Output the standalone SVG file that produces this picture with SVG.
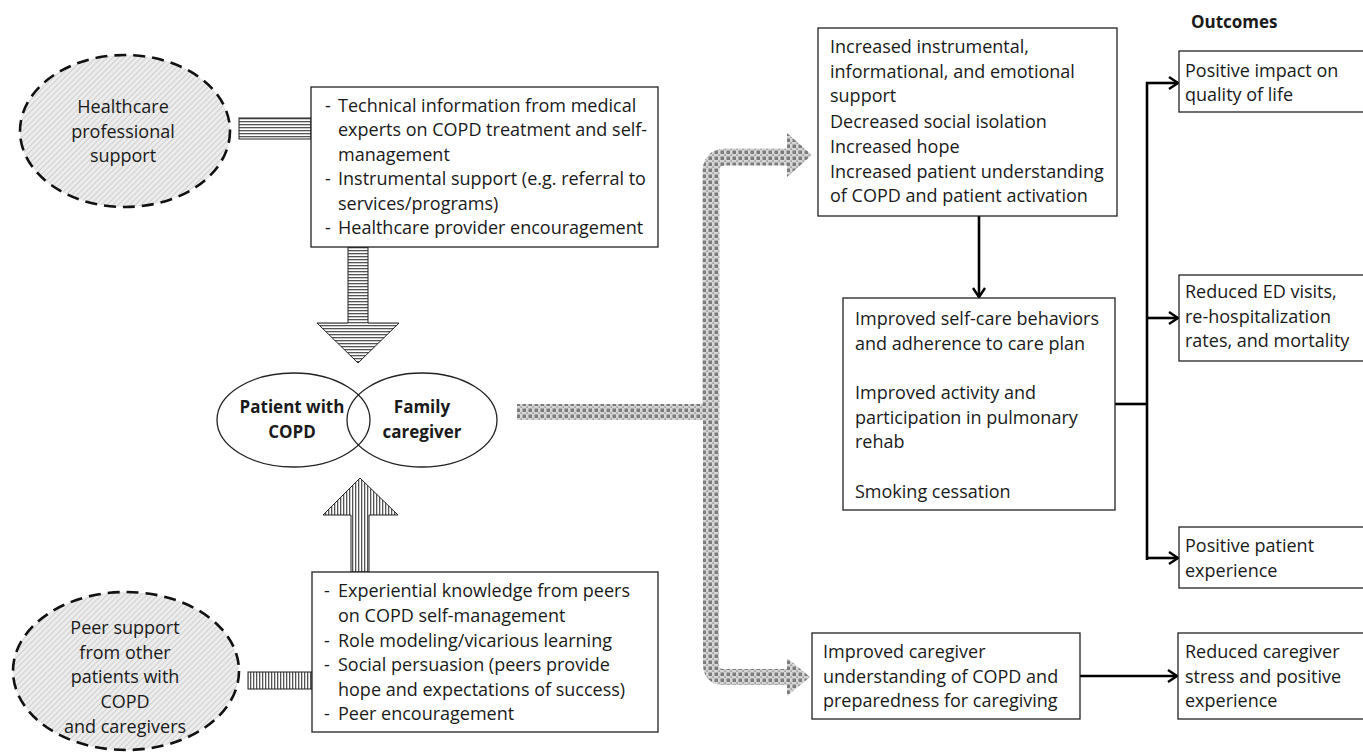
<svg xmlns="http://www.w3.org/2000/svg" width="1363" height="755" viewBox="0 0 1363 755">
<defs>
<style>
text{font-family:"Open Sans",Lato,"Liberation Sans",sans-serif;font-size:18px;fill:#1a1a1a}
.b{font-weight:bold;font-size:17px}
.c{text-anchor:middle}
.box{fill:#fff;stroke:#222;stroke-width:1.3}
.ell{fill:none;stroke:#222;stroke-width:1.3}
.dash{fill:url(#hatch);stroke:#111;stroke-width:2.6;stroke-dasharray:12 7}
.ln{fill:none;stroke:#000;stroke-width:2.6}
.str{stroke:#222;stroke-width:1}
</style>
<pattern id="hatch" patternUnits="userSpaceOnUse" width="4" height="4" patternTransform="rotate(45)">
<rect width="4" height="4" fill="#ececec"/>
<line x1="0" y1="0" x2="0" y2="4" stroke="#bdbdbd" stroke-width="1.2"/>
</pattern>
<pattern id="hs" patternUnits="userSpaceOnUse" width="4" height="3">
<rect width="4" height="3" fill="#fff"/>
<rect y="1" width="4" height="1.3" fill="#555"/>
</pattern>
<pattern id="vs" patternUnits="userSpaceOnUse" width="3" height="4">
<rect width="3" height="4" fill="#fff"/>
<rect x="1" width="1.3" height="4" fill="#555"/>
</pattern>
<pattern id="chk" patternUnits="userSpaceOnUse" width="6" height="6">
<rect width="6" height="6" fill="#d6d6d6"/>
<rect x="0.5" y="0.5" width="3.5" height="3.5" fill="#7c7c7c"/>
<rect x="4.3" y="4.3" width="1.7" height="1.7" fill="#a0a0a0"/>
</pattern>
<marker id="ah" markerUnits="userSpaceOnUse" markerWidth="14" markerHeight="16" refX="11" refY="8" orient="auto">
<path d="M2,2 L11,8 L2,14" fill="none" stroke="#000" stroke-width="2.4"/>
</marker>
</defs>
<rect width="1363" height="755" fill="#fff"/>

<g id="connectors">
<rect x="239" y="118" width="72" height="21" fill="url(#hs)" class="str"/>
<polygon points="348,247 368,247 368,323 399,323 358,363 317,323 348,323" fill="url(#hs)" class="str"/>
<polygon points="351,572 369,572 369,515 398,515 360,478 323,515 351,515" fill="url(#vs)" class="str"/>
<rect x="248" y="672" width="64" height="17" fill="url(#vs)" class="str"/>
<path d="M517,412 H711" fill="none" stroke="url(#chk)" stroke-width="16"/>
<path d="M711,420 V172 Q711,157 726,157 H789" fill="none" stroke="url(#chk)" stroke-width="17"/>
<path d="M711,405 V664 Q711,677 724,677 H789" fill="none" stroke="url(#chk)" stroke-width="16"/>
<polygon points="787,133 812,155 787,177" fill="url(#chk)"/>
<polygon points="787,658 810,677 787,696" fill="url(#chk)"/>
<line x1="979" y1="216" x2="979" y2="297" class="ln" stroke-width="2.2" marker-end="url(#ah)"/>
<line x1="1115" y1="404" x2="1147" y2="404" class="ln" stroke-width="3"/>
<line x1="1147" y1="82" x2="1147" y2="560" class="ln" stroke-width="3"/>
<line x1="1146" y1="83" x2="1178" y2="83" class="ln" marker-end="url(#ah)"/>
<line x1="1147" y1="318" x2="1178" y2="318" class="ln" marker-end="url(#ah)"/>
<line x1="1146" y1="558" x2="1178" y2="558" class="ln" marker-end="url(#ah)"/>
<line x1="1080" y1="676" x2="1177" y2="676" class="ln" marker-end="url(#ah)"/>
</g>

<g id="hcp">
<ellipse cx="125" cy="131" rx="105" ry="76" class="dash"/>
<text class="c" x="123" y="113">Healthcare</text>
<text class="c" x="123" y="138">professional</text>
<text class="c" x="123" y="162">support</text>
</g>

<g id="peer">
<ellipse cx="126" cy="671" rx="113" ry="79" class="dash"/>
<text class="c" x="125" y="634">Peer support</text>
<text class="c" x="125" y="659">from other</text>
<text class="c" x="125" y="683">patients with</text>
<text class="c" x="125" y="708">COPD</text>
<text class="c" x="125" y="733">and caregivers</text>
</g>

<g id="hcp-box">
<rect x="311" y="87" width="347" height="160" class="box"/>
<text x="325" y="112">-</text><text x="338" y="112">Technical information from medical</text>
<text x="338" y="136">experts on COPD treatment and self-</text>
<text x="338" y="161">management</text>
<text x="325" y="185">-</text><text x="338" y="185">Instrumental support (e.g. referral to</text>
<text x="338" y="210">services/programs)</text>
<text x="325" y="234">-</text><text x="338" y="234">Healthcare provider encouragement</text>
</g>

<g id="peer-box">
<rect x="312" y="572" width="346" height="160" class="box"/>
<text x="324" y="597">-</text><text x="338" y="597">Experiential knowledge from peers</text>
<text x="338" y="622">on COPD self-management</text>
<text x="324" y="647">-</text><text x="338" y="647">Role modeling/vicarious learning</text>
<text x="324" y="671">-</text><text x="338" y="671">Social persuasion (peers provide</text>
<text x="338" y="696">hope and expectations of success)</text>
<text x="324" y="720">-</text><text x="338" y="720">Peer encouragement</text>
</g>

<g id="patient">
<ellipse cx="293.5" cy="420" rx="76.5" ry="47" class="ell"/>
<text class="b c" x="292" y="413">Patient with</text>
<text class="b c" x="292" y="438">COPD</text>
</g>
<g id="caregiver">
<ellipse cx="422" cy="420" rx="75" ry="47" class="ell"/>
<text class="b c" x="422" y="413">Family</text>
<text class="b c" x="422" y="438">caregiver</text>
</g>

<g id="support-box">
<rect x="818" y="28" width="299" height="188" class="box"/>
<text x="830" y="53">Increased instrumental,</text>
<text x="830" y="78">informational, and emotional</text>
<text x="830" y="102">support</text>
<text x="830" y="128">Decreased social isolation</text>
<text x="830" y="153">Increased hope</text>
<text x="830" y="178">Increased patient understanding</text>
<text x="830" y="202">of COPD and patient activation</text>
</g>

<g id="selfcare-box">
<rect x="843" y="298" width="272" height="212" class="box"/>
<text x="855" y="325">Improved self-care behaviors</text>
<text x="855" y="350">and adherence to care plan</text>
<text x="855" y="399">Improved activity and</text>
<text x="855" y="424">participation in pulmonary</text>
<text x="855" y="448">rehab</text>
<text x="855" y="498">Smoking cessation</text>
</g>

<g id="caregiver-box">
<rect x="812" y="633" width="268" height="86" class="box"/>
<text x="823" y="658">Improved caregiver</text>
<text x="823" y="683">understanding of COPD and</text>
<text x="823" y="707">preparedness for caregiving</text>
</g>

<g id="outcomes-title">
<text class="b" x="1191" y="28">Outcomes</text>
</g>

<g id="qol">
<rect x="1179" y="51" width="190" height="61" class="box"/>
<text x="1185" y="77">Positive impact on</text>
<text x="1185" y="101">quality of life</text>
</g>

<g id="ed">
<rect x="1179" y="275" width="190" height="86" class="box"/>
<text x="1185" y="298">Reduced ED visits,</text>
<text x="1185" y="323">re-hospitalization</text>
<text x="1185" y="347">rates, and mortality</text>
</g>

<g id="experience">
<rect x="1179" y="527" width="190" height="61" class="box"/>
<text x="1185" y="552">Positive patient</text>
<text x="1185" y="577">experience</text>
</g>

<g id="stress">
<rect x="1178" y="633" width="190" height="86" class="box"/>
<text x="1185" y="658">Reduced caregiver</text>
<text x="1185" y="683">stress and positive</text>
<text x="1185" y="707">experience</text>
</g>
</svg>
